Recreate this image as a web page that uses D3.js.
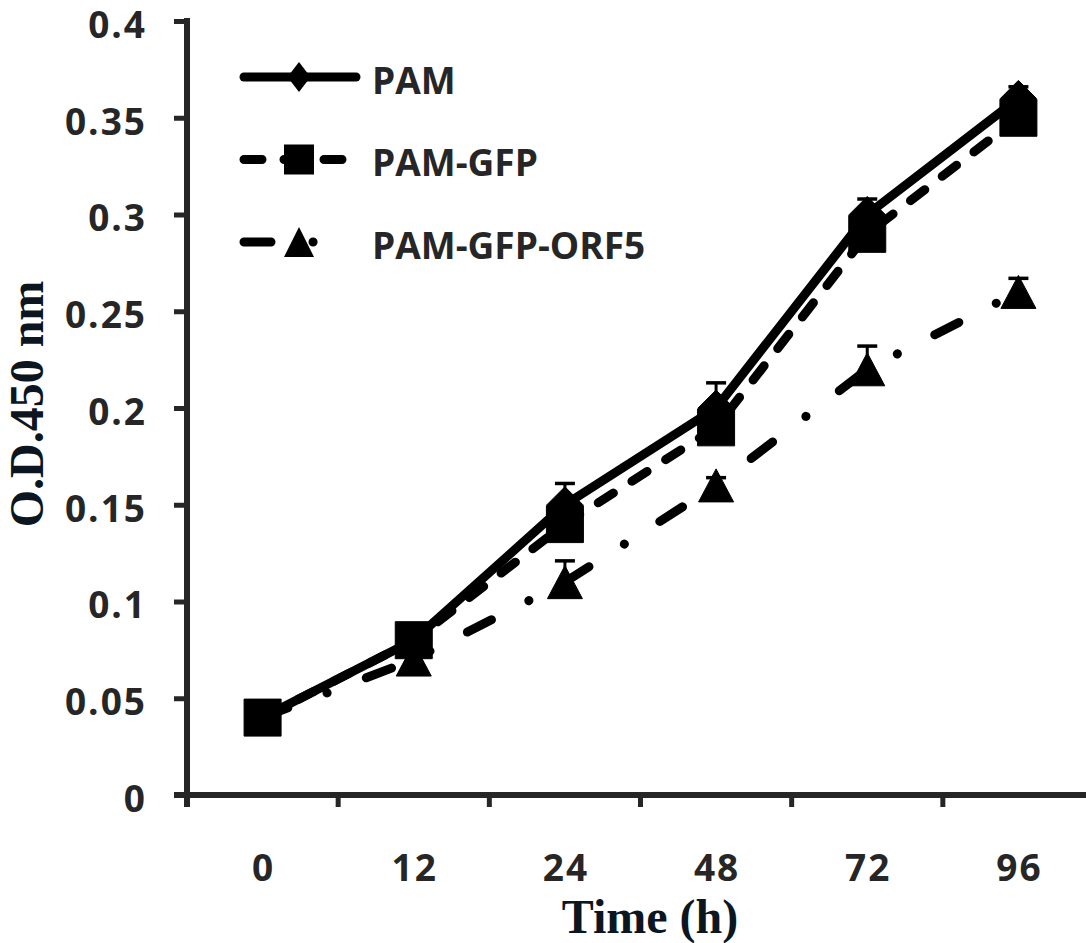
<!DOCTYPE html>
<html>
<head>
<meta charset="utf-8">
<script src="https://cdn.jsdelivr.net/npm/d3@7"></script>
<style>
  body { margin: 0; background: #fff; }
  .tick text { font-family: "Open Sans", sans-serif; font-weight: 700; font-size: 37px; fill: #262626; letter-spacing: 2px; }
</style>
</head>
<body>
<svg id="chart" width="1086" height="943"></svg>
<script>
// growth curve data (O.D. 450 nm)
var times = ['0', '12', '24', '48', '72', '96'];
var seriesNames = ['PAM', 'PAM-GFP', 'PAM-GFP-ORF5'];
var pam = [0.04, 0.08, 0.15, 0.20, 0.30, 0.36];
var pamErr = [0.003, 0.004, 0.011, 0.013, 0.008, 0.006];
var pamGfp = [0.04, 0.08, 0.14, 0.19, 0.29, 0.35];
var pamGfpErr = [0.003, 0.004, 0.008, 0.010, 0.008, 0.006];
var orf5 = [0.04, 0.07, 0.11, 0.16, 0.22, 0.26];
var orf5Err = [0.002, 0.004, 0.011, 0.004, 0.012, 0.007];
var yTicks = [0, 0.05, 0.1, 0.15, 0.2, 0.25, 0.3, 0.35, 0.4];

var axisColor = '#262626', titleColor = '#0c1620';

var svg = d3.select('#chart');

var x = d3.scaleBand().domain(times).range([187, 1094]);
var y = d3.scaleLinear().domain([0, 0.4]).range([795, 21]);

var series = [
    { name: seriesNames[2], values: orf5, err: orf5Err, dash: '27,42,0.1,42', marker: 'triangle' },
    { name: seriesNames[0], values: pam, err: pamErr, dash: null, marker: 'diamond' },
    { name: seriesNames[1], values: pamGfp, err: pamGfpErr, dash: '18,22', marker: 'square' }
];

function markerPath(type, w, h) {
    switch (type) {
    case 'diamond':
        return 'M0,' + (-h / 2) + 'L' + (w / 2) + ',0L0,' + (h / 2) + 'L' + (-w / 2) + ',0Z';
    case 'triangle':
        return 'M0,' + (-h / 2) + 'L' + (w / 2) + ',' + (h / 2) + 'L' + (-w / 2) + ',' + (h / 2) + 'Z';
    case 'square':
    default:
        return 'M' + (-w / 2) + ',' + (-h / 2) + 'h' + w + 'v' + h + 'h' + (-w) + 'Z';
    }
}
var plotMarker = { diamond: [36, 36], square: [37, 37], triangle: [35, 33] };
var legendMarker = { diamond: [23, 30], square: [30, 30], triangle: [30, 30] };

// axes
var x0 = x.range()[0];
var yAxis = svg.append('g').attr('transform', 'translate(' + x0 + ',0)')
    .call(d3.axisLeft(y).tickValues(yTicks).tickSize(13).tickPadding(27).tickFormat(function(d) { return String(d); }));
yAxis.select('.domain').remove();
yAxis.selectAll('.tick line').attr('stroke', axisColor).attr('stroke-width', 5);
yAxis.selectAll('.tick text').attr('dy', '0.44em');

var xAxis = svg.append('g').attr('transform', 'translate(0,' + y(0) + ')')
    .call(d3.axisBottom(x).tickSize(0).tickPadding(60));
xAxis.select('.domain').remove();
xAxis.selectAll('.tick text').attr('dx', 1);

svg.append('line')
    .attr('x1', x0).attr('x2', x0)
    .attr('y1', y(0.4) - 3).attr('y2', y(0) + 12)
    .attr('stroke', axisColor).attr('stroke-width', 6);
svg.append('line')
    .attr('x1', x0 - 13).attr('x2', x.range()[1])
    .attr('y1', y(0)).attr('y2', y(0))
    .attr('stroke', axisColor).attr('stroke-width', 6);
svg.append('g').selectAll('line').data(times).join('line')
    .attr('x1', function(d) { return x(d); }).attr('x2', function(d) { return x(d); })
    .attr('y1', y(0)).attr('y2', y(0) + 12)
    .attr('stroke', axisColor).attr('stroke-width', 5);

// axis titles
svg.append('text')
    .attr('transform', 'translate(43,' + ((y(0) + y(0.4)) / 2 - 4) + ') rotate(-90)')
    .attr('text-anchor', 'middle')
    .attr('style', 'font-family: "Liberation Serif", serif; font-weight: bold; font-size: 48px; fill: ' + titleColor)
    .text('O.D.450 nm');
svg.append('text')
    .attr('x', 650).attr('y', 933)
    .attr('text-anchor', 'middle')
    .attr('style', 'font-family: "Liberation Serif", serif; font-weight: bold; font-size: 48px; fill: ' + titleColor)
    .text('Time (h)');

// lines
var line = d3.line()
    .x(function(d, i) { return x(times[i]) + x.bandwidth() / 2; })
    .y(function(d) { return y(d); });

series.forEach(function(s) {
    svg.append('path')
        .attr('d', line(s.values))
        .attr('fill', 'none')
        .attr('stroke', '#000')
        .attr('stroke-width', 9)
        .attr('stroke-linecap', 'round')
        .attr('stroke-linejoin', 'round')
        .attr('stroke-dasharray', s.dash);
});

// error bars (upper only) and markers
series.forEach(function(s) {
    var g = svg.append('g');
    s.values.forEach(function(v, i) {
        var cx = x(times[i]) + x.bandwidth() / 2;
        g.append('line')
            .attr('x1', cx).attr('x2', cx)
            .attr('y1', y(v)).attr('y2', y(v + s.err[i]))
            .attr('stroke', '#000').attr('stroke-width', 3);
        g.append('line')
            .attr('x1', cx - 10).attr('x2', cx + 10)
            .attr('y1', y(v + s.err[i])).attr('y2', y(v + s.err[i]))
            .attr('stroke', '#000').attr('stroke-width', 3.5);
    });
});
series.forEach(function(s) {
    var size = plotMarker[s.marker];
    svg.append('g').selectAll('path').data(s.values).join('path')
        .attr('transform', function(d, i) { return 'translate(' + (x(times[i]) + x.bandwidth() / 2) + ',' + y(d) + ')'; })
        .attr('d', markerPath(s.marker, size[0], size[1]))
        .attr('fill', '#000')
        .attr('stroke', '#000')
        .attr('stroke-width', 1)
        .attr('stroke-linejoin', 'round');
});

// legend
var legendOrder = [series[1], series[2], series[0]];
var legend = svg.append('g').attr('transform', 'translate(244,77)');
var legendLen = { diamond: 112, square: 102, triangle: 72 };
legendOrder.forEach(function(s, i) {
    var row = legend.append('g').attr('transform', 'translate(0,' + (i * 82.5) + ')');
    row.append('line')
        .attr('x1', 0).attr('x2', legendLen[s.marker])
        .attr('y1', 0).attr('y2', 0)
        .attr('stroke', '#000').attr('stroke-width', 9)
        .attr('stroke-linecap', 'round')
        .attr('stroke-dasharray', s.dash);
    var size = legendMarker[s.marker];
    row.append('path')
        .attr('transform', 'translate(55,0)')
        .attr('d', markerPath(s.marker, size[0], size[1]))
        .attr('fill', '#000');
    row.append('text')
        .attr('x', 128).attr('y', 0).attr('dy', '0.45em')
        .attr('style', 'font-family: "Open Sans", sans-serif; font-weight: 700; font-size: 37px; fill: ' + axisColor)
        .text(s.name);
});
</script>
</body>
</html>
